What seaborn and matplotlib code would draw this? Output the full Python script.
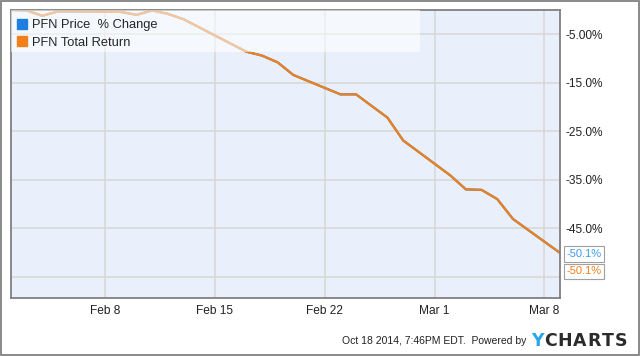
import matplotlib
matplotlib.use("Agg")
import matplotlib.pyplot as plt
from matplotlib.lines import Line2D
from matplotlib.patches import Rectangle
import matplotlib.transforms as mtransforms
import numpy as np
import pandas as pd
import seaborn as sns

# ---- data ----
dates = ["2009-02-02", "2009-02-03", "2009-02-04", "2009-02-05", "2009-02-06",
         "2009-02-09", "2009-02-10", "2009-02-11", "2009-02-12", "2009-02-13",
         "2009-02-17", "2009-02-18", "2009-02-19", "2009-02-20",
         "2009-02-23", "2009-02-24", "2009-02-25", "2009-02-26", "2009-02-27",
         "2009-03-02", "2009-03-03", "2009-03-04", "2009-03-05", "2009-03-06",
         "2009-03-09"]
price_change = [0.0, -0.1, -1.2, -0.3, -0.3,
                -0.4, -1.0, -0.1, -0.8, -1.9,
                -8.6, -9.4, -10.8, -13.4,
                -17.4, -17.4, -19.8, -22.2, -26.9,
                -34.1, -37.0, -37.1, -39.0, -43.1,
                -50.1]
total_return = [0.0, -0.1, -1.2, -0.3, -0.3,
                -0.4, -1.0, -0.1, -0.8, -1.9,
                -8.6, -9.4, -10.8, -13.4,
                -17.4, -17.4, -19.8, -22.2, -26.9,
                -34.1, -37.0, -37.1, -39.0, -43.1,
                -50.1]
series_names = ["PFN Price  % Change", "PFN Total Return"]
ytick_values = [-5, -15, -25, -35, -45, -55]
ytick_labels = ["-5.00%", "-15.0%", "-25.0%", "-35.0%", "-45.0%", ""]
xtick_dates = ["2009-02-08", "2009-02-15", "2009-02-22", "2009-03-01", "2009-03-08"]
xtick_labels = ["Feb 8", "Feb 15", "Feb 22", "Mar 1", "Mar 8"]
last_labels = ["-50.1%", "-50.1%"]

BLUE = "#1f7fe0"
BLUE_TXT = "#3a9af0"
ORANGE = "#f0801c"

df = pd.DataFrame({
    "date": pd.to_datetime(dates * 2),
    "value": price_change + total_return,
    "series": [series_names[0]] * len(dates) + [series_names[1]] * len(dates),
})

sns.set_style("white")
plt.rcParams["font.family"] = ["Liberation Sans", "DejaVu Sans"]

fig = plt.figure(figsize=(6.4, 3.56), dpi=100)
W, H = 640, 356
ax = fig.add_axes([11 / W, (H - 298) / H, (560 - 11) / W, (298 - 10) / H])
ax.set_facecolor("#eaf0fb")

sns.lineplot(data=df, x="date", y="value", hue="series",
             palette={series_names[0]: BLUE, series_names[1]: ORANGE},
             linewidth=1.6, ax=ax, legend=False)

ax.set_xlim(pd.Timestamp(dates[0]), pd.Timestamp(dates[-1]))
ax.set_ylim(-59.4, 0)

ax.set_xticks(pd.to_datetime(xtick_dates))
ax.set_xticklabels(xtick_labels)
ax.set_yticks(ytick_values)
ax.set_yticklabels(ytick_labels)
ax.yaxis.tick_right()
ax.tick_params(axis="both", length=0, labelsize=8.6, colors="#222222")
ax.tick_params(axis="y", pad=4)
ax.tick_params(axis="x", pad=5)
ax.set_xlabel("")
ax.set_ylabel("")

ax.grid(True, color="#d8d8d8", linewidth=1.2)
ax.set_axisbelow(True)
for sp in ax.spines.values():
    sp.set_visible(True)
    sp.set_color("#808080")
    sp.set_linewidth(1.3)

# legend band (semi-transparent) + legend entries
ax.add_patch(Rectangle((0, 1 - 42 / 288), 0.745, 42 / 288, transform=ax.transAxes,
                       facecolor="white", alpha=0.55, edgecolor="none", zorder=9,
                       clip_on=False))
handles = [Line2D([], [], marker="s", linestyle="none", color=BLUE, markersize=6.5),
           Line2D([], [], marker="s", linestyle="none", color=ORANGE, markersize=6.5)]
leg = ax.legend(handles, series_names, loc="upper left",
                bbox_to_anchor=(6 / 549, 1 - 9 / 288), borderaxespad=0,
                frameon=False, handlelength=0.8, handletextpad=0.4,
                labelspacing=0.42, fontsize=9.3, borderpad=0)
leg.set_zorder(10)

# last value labels
trans = mtransforms.blended_transform_factory(ax.transAxes, ax.transData)
ax.text(1.012, -50.3, last_labels[0], transform=trans, color=BLUE_TXT,
        fontsize=8, va="center", ha="left", clip_on=False,
        bbox=dict(boxstyle="square,pad=0.25", fc="white", ec="#a0a0a0", lw=0.8))
ax.text(1.012, -53.9, last_labels[1], transform=trans, color=ORANGE,
        fontsize=8, va="center", ha="left", clip_on=False,
        bbox=dict(boxstyle="square,pad=0.25", fc="white", ec="#a0a0a0", lw=0.8))

# footer
fig.text(342 / W, 1 - 341 / H, "Oct 18 2014, 7:46PM EDT.  Powered by",
         fontsize=7.5, color="#222222", va="center", ha="left")
fig.canvas.draw()
xpos = 531.0
for i, ch in enumerate("YCHARTS"):
    t = fig.text(xpos / W, 1 - 341 / H, ch, fontsize=12.5, fontweight="bold",
                 color="#2aa6e6" if i == 0 else "#2b2b2b",
                 va="center", ha="left", family="DejaVu Sans")
    bb = t.get_window_extent(renderer=fig.canvas.get_renderer())
    xpos += bb.width + 0.8

# outer frame
fig.patches.append(Rectangle((0.001, 0.002), 0.997, 0.995, transform=fig.transFigure,
                             fill=False, edgecolor="#808080", linewidth=1.3))

fig.savefig("out.png", dpi=100)
